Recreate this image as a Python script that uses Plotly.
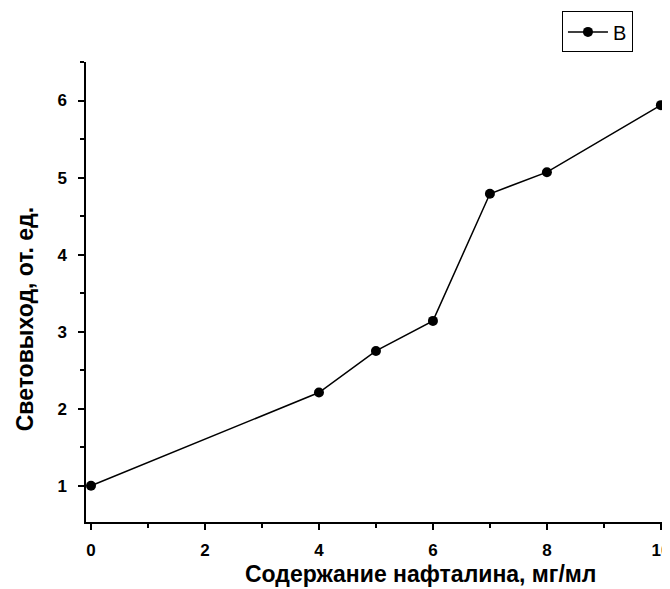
import plotly.graph_objects as go

x_vals = [0, 4, 5, 6, 7, 8, 10]
y_vals = [1.0, 2.21, 2.75, 3.14, 4.79, 5.07, 5.94]
x_ticks = [0, 2, 4, 6, 8, 10]
y_ticks = [1, 2, 3, 4, 5, 6]
x_title = "Содержание нафталина, мг/мл"
y_title = "Световыход, от. ед."

fig = go.Figure()
fig.add_trace(go.Scatter(
    x=x_vals, y=y_vals, mode="lines+markers", name="B",
    line=dict(color="black", width=1.5),
    marker=dict(color="black", size=10),
    cliponaxis=False,
))

tickfont = dict(family="Liberation Sans, Arial", size=17, color="black", weight="bold")
titlefont = dict(family="Liberation Sans, Arial", size=23, color="black", weight="bold")

fig.update_layout(
    width=662, height=581,
    margin=dict(l=78, r=0, t=54, b=67),
    paper_bgcolor="white", plot_bgcolor="white",
    showlegend=True,
    legend=dict(
        x=0.815, y=1.11, xanchor="left", yanchor="top",
        bordercolor="black", borderwidth=1,
        font=dict(family="Liberation Sans, Arial", size=20, color="black"),
        bgcolor="white",
        itemwidth=40,
        tracegroupgap=0,
    ),
    xaxis=dict(
        range=[-0.088, 10.16], tickvals=x_ticks,
        ticktext=[str(v) for v in x_ticks],
        showgrid=False, zeroline=False,
        showline=True, linecolor="black", linewidth=1.5,
        ticks="outside", ticklen=6, tickwidth=1.5, tickcolor="black",
        minor=dict(dtick=1, tick0=0, ticks="outside", ticklen=4, tickwidth=1.5, tickcolor="black", showgrid=False),
        tickfont=tickfont, ticklabelstandoff=6, ticklabeloverflow="allow",
    ),
    yaxis=dict(
        range=[0.53, 6.5], tickvals=y_ticks,
        ticktext=[str(v) for v in y_ticks],
        showgrid=False, zeroline=False,
        showline=True, linecolor="black", linewidth=1.5,
        ticks="outside", ticklen=6, tickwidth=1.5, tickcolor="black",
        minor=dict(dtick=0.5, tick0=0, ticks="outside", ticklen=4, tickwidth=1.5, tickcolor="black", showgrid=False),
        tickfont=tickfont, ticklabelstandoff=8,
    ),
    annotations=[
        dict(text=x_title, xref="paper", yref="paper", x=0.572, y=-0.113,
             xanchor="center", yanchor="middle", showarrow=False, font=titlefont),
        dict(text=y_title, xref="paper", yref="paper", x=-0.105, y=0.44,
             xanchor="center", yanchor="middle", showarrow=False, font=titlefont,
             textangle=-90),
    ],
)

fig.write_html("out.html")
